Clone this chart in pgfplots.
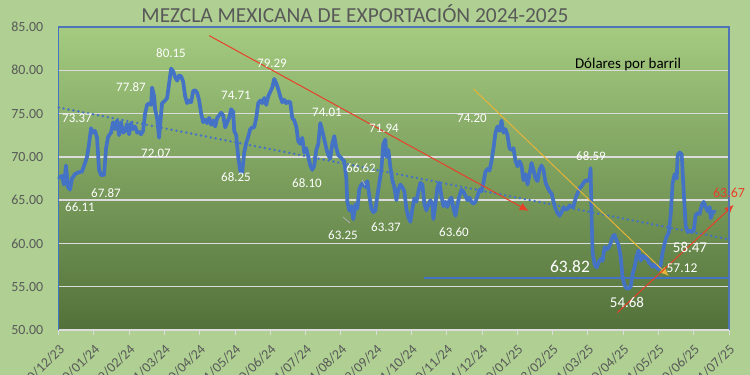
\documentclass[border=0pt]{standalone}
\usepackage{pgfplots}
\usepackage{pgfplotstable}
\pgfplotsset{compat=1.18}
\usetikzlibrary{arrows.meta}
\usepackage{fontspec}
\setmainfont{Carlito}
\definecolor{outerbg}{HTML}{AFD092}
\definecolor{ptop}{HTML}{A4CB80}
\definecolor{pmid}{HTML}{76A950}
\definecolor{pbot}{HTML}{52713A}
\definecolor{ser}{HTML}{4472C4}
\definecolor{ticklab}{HTML}{595959}
\definecolor{redl}{HTML}{E8402A}
\definecolor{goldl}{HTML}{E6B43A}
\definecolor{gridc}{HTML}{DCDCDC}

% x: horizontal position (px), y: price in USD per barrel
\pgfplotstableread{
px val
59 67.6
62 67.8
64 66.8
66 69.0
68 66.5
70 66.2
72 67.5
75 68.0
78 68.2
82 68.3
85 69.3
87 70.0
89 71.5
91 73.3
93 72.8
95 73.0
97 72.2
99 68.5
101 67.9
104 67.9
106 71.0
108 72.3
111 72.8
113 74.0
115 73.2
117 74.2
119 72.5
121 74.0
123 72.8
125 73.0
127 73.8
129 72.6
131 73.9
133 73.2
135 73.5
137 72.8
139 72.9
141 72.6
143 73.0
145 75.0
147 76.0
149 76.2
151 76.0
152 78.0
154 77.0
155 75.5
157 74.5
159 72.2
161 75.0
162 76.2
165 76.5
167 76.8
169 78.5
171 80.2
173 79.9
175 79.2
177 78.8
179 79.4
181 79.3
183 78.7
185 77.0
187 76.2
189 76.5
191 76.3
193 77.6
195 77.7
197 77.4
199 76.5
201 75.0
203 74.0
205 74.3
207 73.9
209 74.5
211 73.7
213 74.2
215 73.5
217 74.5
219 74.8
221 75.1
223 74.8
225 73.4
227 74.0
229 74.5
231 75.5
233 75.2
234 73.0
236 72.5
238 70.0
240 68.4
242 68.2
244 70.5
246 71.6
248 72.3
250 73.2
252 73.4
254 73.4
256 74.5
258 76.2
260 76.5
262 76.2
264 76.8
266 76.0
268 77.0
270 77.5
272 78.0
274 79.0
276 78.5
278 77.8
280 77.0
282 76.3
284 76.6
286 76.2
288 76.4
290 76.3
292 74.5
294 74.2
296 73.5
298 71.8
300 71.5
302 72.2
304 70.5
306 71.0
308 70.0
310 69.0
312 68.5
314 69.0
316 70.8
318 71.5
320 73.9
322 73.0
324 72.0
326 71.0
328 70.2
330 69.8
332 71.5
334 72.4
336 71.0
338 70.2
340 70.0
342 69.7
344 69.5
346 67.5
347 64.8
349 63.8
351 64.3
353 62.8
355 64.5
357 64.0
359 66.3
361 66.8
363 67.0
365 66.5
367 67.2
369 65.5
371 64.0
373 63.6
375 63.8
377 65.5
379 67.0
381 68.5
383 71.5
385 72.0
386 70.0
388 70.8
390 68.8
392 67.3
394 66.5
396 65.0
398 66.2
400 66.8
402 66.5
404 66.0
406 64.0
408 63.0
410 62.5
412 64.0
414 65.2
416 64.8
418 66.0
420 67.0
422 66.8
424 64.5
426 63.8
428 64.5
430 65.0
432 64.5
433 62.8
435 64.5
437 66.5
439 67.0
441 65.5
443 64.3
445 64.8
447 64.2
449 65.0
451 65.3
453 64.0
455 63.2
457 64.5
459 65.5
461 66.2
463 66.0
465 65.5
467 65.0
469 65.3
471 64.8
473 64.6
475 64.8
477 65.5
479 66.2
481 66.0
483 67.0
485 68.3
487 68.6
489 68.4
491 69.5
493 71.0
495 72.8
497 73.5
499 73.0
501 74.2
503 72.8
505 73.2
507 72.5
509 71.0
511 70.8
513 71.0
515 69.5
517 68.9
519 69.5
521 69.0
523 67.3
525 68.0
527 66.8
529 68.0
531 69.3
533 68.5
535 67.5
537 67.2
539 68.5
541 69.0
543 68.5
545 67.0
547 66.5
549 66.0
551 65.8
553 64.8
555 64.0
557 63.5
559 63.2
561 63.6
563 64.2
565 63.9
567 64.0
569 64.4
571 64.2
573 64.3
575 65.2
577 65.8
579 66.4
581 66.6
583 67.0
585 67.3
587 67.2
589 67.5
590 68.7
591 63.0
592 59.0
594 57.6
596 57.2
598 57.8
600 58.2
602 58.0
604 59.6
606 59.3
608 59.5
610 60.0
612 60.8
614 61.0
616 60.3
618 59.8
620 58.5
622 56.0
624 55.2
626 54.8
628 54.8
630 55.0
632 56.5
634 57.3
636 58.5
638 59.2
640 58.0
642 58.6
644 58.3
646 58.5
648 57.8
650 57.6
652 57.3
654 57.6
656 57.2
658 57.0
660 57.5
662 59.0
664 60.0
666 60.8
668 61.2
670 63.3
672 67.0
674 68.0
676 67.5
677 70.2
679 70.5
681 70.3
683 66.0
685 62.0
687 61.3
689 61.5
691 61.3
693 61.5
695 63.3
697 63.5
699 63.4
701 64.4
703 64.8
705 64.2
707 63.7
709 64.2
710 62.9
712 63.6
714 63.7
}\mezcla

\begin{document}
\begin{tikzpicture}
\useasboundingbox (0,0) rectangle (750bp,375bp);
\fill[outerbg] (0,0) rectangle (750bp,375bp);
\clip (0,0) rectangle (750bp,375bp);
\begin{axis}[
  at={(58.7bp,45bp)}, anchor=south west,
  scale only axis, width=670.3bp, height=303bp,
  xmin=0, xmax=570, ymin=50, ymax=85,
  clip=false,
  axis background/.style={shade, top color=ptop, middle color=pmid, bottom color=pbot},
  axis line style={draw=none},
  ytick={50,55,...,85},
  ymajorgrids, major grid style={gridc, line width=1.3bp},
  ytick style={draw=none},
  xtick={0,30,...,570},
  xticklabels={30/12/23,30/01/24,29/02/24,31/03/24,30/04/24,31/05/24,30/06/24,31/07/24,31/08/24,29/09/24,31/10/24,30/11/24,31/12/24,30/01/25,28/02/25,31/03/25,30/04/25,31/05/25,30/06/25,31/07/25},
  xtick pos=bottom, tick align=outside,
  major tick length=5bp,
  xtick style={gridc, line width=1bp},
  xticklabel style={xshift=4bp, yshift=-11bp, rotate=45, anchor=east, font=\fontsize{14}{16}\selectfont, text=ticklab, inner sep=1bp},
  yticklabel style={font=\fontsize{14}{16}\selectfont, text=ticklab, xshift=-7bp},
  /pgf/number format/.cd, fixed, fixed zerofill, precision=2, assume math mode=true,
]
\addplot[ser, line width=3.7bp, line join=round, line cap=round, no markers]
  table[x expr=(\thisrowno{0}-58.7)*0.8513, y index=1] {\mezcla};
% linear trend
\addplot[ser, line width=2.7bp, line cap=round, dash pattern=on 0pt off 5bp, no markers]
  coordinates {(0,75.7) (569,60.5)};
% support line
\addplot[ser, line width=1.8bp, no markers] coordinates {(311,56.05) (569,56.05)};
% annotation arrows
\addplot[redl, line width=1bp, no markers, -{Latex[length=9bp,width=8bp]}] coordinates {(128,84.0) (399.6,63.75)};
\addplot[goldl, line width=1bp, no markers, -{Latex[length=9bp,width=8bp]}] coordinates {(352.7,77.84) (518.7,56.25)};
\addplot[redl, line width=1bp, no markers, -{Latex[length=9bp,width=8bp]}] coordinates {(475,52.0) (574,64.45)};
% borders
\draw[ser!80!gray, line width=1.2bp] (rel axis cs:0,0) -- (rel axis cs:0,1) -- (rel axis cs:1,1) -- (rel axis cs:1,0);
\draw[gridc, line width=1.5bp] (rel axis cs:0,0) -- (rel axis cs:1,0);
\draw[ser, line width=1.5bp] (rel axis cs:0,0) -- (rel axis cs:0,1);
\end{axis}
% leader lines
\draw[gray!60, line width=0.8bp] (343bp,158bp) -- (350bp,152bp);
\draw[gray!60, line width=0.8bp] (362bp,195bp) -- (365bp,190bp);
% title and texts
\node[text=ticklab, font=\fontsize{21.5}{24}\selectfont] at (355bp,361bp) {MEZCLA MEXICANA DE EXPORTACIÓN 2024-2025};
\node[text=black, font=\fontsize{15}{17}\selectfont] at (628bp,310bp) {Dólares por barril};
\begin{scope}[every node/.style={text=white, inner sep=0pt, font=\fontsize{13}{15}\selectfont}]
\node at (77bp,257bp) {73.37};
\node at (80bp,168bp) {66.11};
\node at (106bp,182bp) {67.87};
\node at (131bp,288bp) {77.87};
\node at (156bp,222bp) {72.07};
\node at (171bp,322bp) {80.15};
\node at (236bp,280bp) {74.71};
\node at (236bp,198bp) {68.25};
\node at (272bp,312bp) {79.29};
\node at (327bp,263bp) {74.01};
\node at (307bp,192bp) {68.10};
\node at (384bp,247bp) {71.94};
\node at (361bp,207bp) {66.62};
\node at (343bp,140bp) {63.25};
\node at (386bp,148bp) {63.37};
\node at (472bp,257bp) {74.20};
\node at (454bp,143bp) {63.60};
\node at (591bp,219bp) {68.59};
\node[font=\fontsize{17.5}{19}\selectfont] at (570bp,108bp) {63.82};
\node[font=\fontsize{15}{17}\selectfont] at (690bp,128bp) {58.47};
\node[font=\fontsize{13.5}{15}\selectfont] at (682bp,107bp) {57.12};
\node[font=\fontsize{15}{17}\selectfont] at (627bp,73bp) {54.68};
\node[text=redl, font=\fontsize{14}{16}\selectfont] at (729bp,182bp) {63.67};
\end{scope}
\end{tikzpicture}
\end{document}
